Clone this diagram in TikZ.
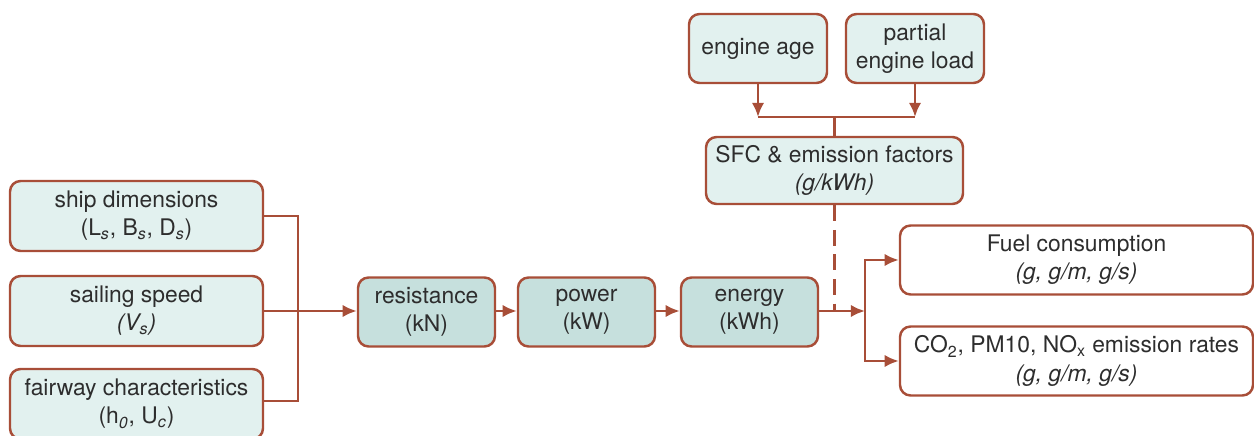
\documentclass[tikz,border=0pt]{standalone}
\usepackage{fontspec}
\setmainfont{TeX Gyre Heros}
\usetikzlibrary{arrows.meta, positioning}
\definecolor{boxline}{RGB}{168,78,56}
\definecolor{lightfill}{RGB}{226,241,239}
\definecolor{darkfill}{RGB}{198,224,221}
\definecolor{txt}{RGB}{45,45,45}
\newcommand{\isub}[1]{\textsubscript{\textit{#1}}}
\tikzset{
    inbox/.style={
        rectangle,
        rounded corners=6pt,
        draw=boxline,
        line width=1.4pt,
        fill=lightfill,
        text=txt,
        align=center,
        inner sep=0pt,
        minimum width=5.06cm,
        minimum height=1.4cm,
        font=\fontsize{13}{16}\selectfont
    },
    midbox/.style={
        inbox,
        fill=darkfill,
        minimum width=2.74cm,
        minimum height=1.38cm
    },
    outbox/.style={
        inbox,
        fill=white,
        minimum width=7.06cm,
        minimum height=1.38cm
    },
    link/.style={
        draw=boxline,
        line width=1.4pt
    },
    arrow/.style={
        link,
        -{Latex[length=8pt,width=7pt]}
    }
}

\begin{document}
\begin{tikzpicture}
    \useasboundingbox (0,0) rectangle (25.08,8.72);

    % Inputs
    \node[inbox] (ship) at (2.73,4.40) {ship dimensions\\(L\isub{s}, B\isub{s}, D\isub{s})};
    \node[inbox] (speed) at (2.73,2.50) {sailing speed\\\textit{(V\isub{s})}};
    \node[inbox] (fairway) at (2.73,0.64) {fairway characteristics\\(h\isub{0}, U\isub{c})};

    % Chain
    \node[midbox] (resist) at (8.53,2.48) {resistance\\(kN)};
    \node[midbox] (power) at (11.73,2.48) {power\\(kW)};
    \node[midbox] (energy) at (14.99,2.48) {energy\\(kWh)};

    % Engine
    \node[inbox, minimum width=2.76cm, minimum height=1.38cm] (age) at (15.16,7.75) {engine age};
    \node[inbox, minimum width=2.76cm, minimum height=1.38cm] (load) at (18.30,7.75) {partial\\engine load};
    \node[inbox, minimum width=5.14cm, minimum height=1.34cm] (sfc) at (16.69,5.31) {SFC \& emission factors\\\textit{(g/kWh)}};

    % Outputs
    \node[outbox] (fuel) at (21.53,3.52) {Fuel consumption\\\textit{(g, g/m, g/s)}};
    \node[outbox] (rates) at (21.53,1.50) {CO\textsubscript{2}, PM10, NO\textsubscript{x} emission rates\\\textit{(g, g/m, g/s)}};

    % Junctions
    \coordinate (jin) at (5.96,2.50);
    \coordinate (jtop) at (16.69,6.38);
    \coordinate (jout) at (17.30,2.50);

    % Connectors
    \draw[link] (ship.east) -| (jin);
    \draw[link] (fairway.east |- 0,0.70) -| (jin);
    \draw[arrow] (speed.east) -- (speed.east -| resist.west);
    \draw[arrow] (resist.east |- jin) -- (power.west |- jin);
    \draw[arrow] (power.east |- jin) -- (energy.west |- jin);
    \draw[arrow] (energy.east |- jin) -- (jout);
    \draw[arrow] (jout) |- (fuel.west);
    \draw[arrow] (jout) |- (rates.west);
    \draw[link, dash pattern=on 9pt off 5pt] (sfc.south) -- (sfc.south |- jin);
    \draw[arrow] (age.south) -- (age.south |- jtop);
    \draw[arrow] (load.south) -- (load.south |- jtop);
    \draw[link] (age.south |- jtop) -- (load.south |- jtop);
    \draw[link] (jtop) -- (sfc.north);
\end{tikzpicture}
\end{document}
